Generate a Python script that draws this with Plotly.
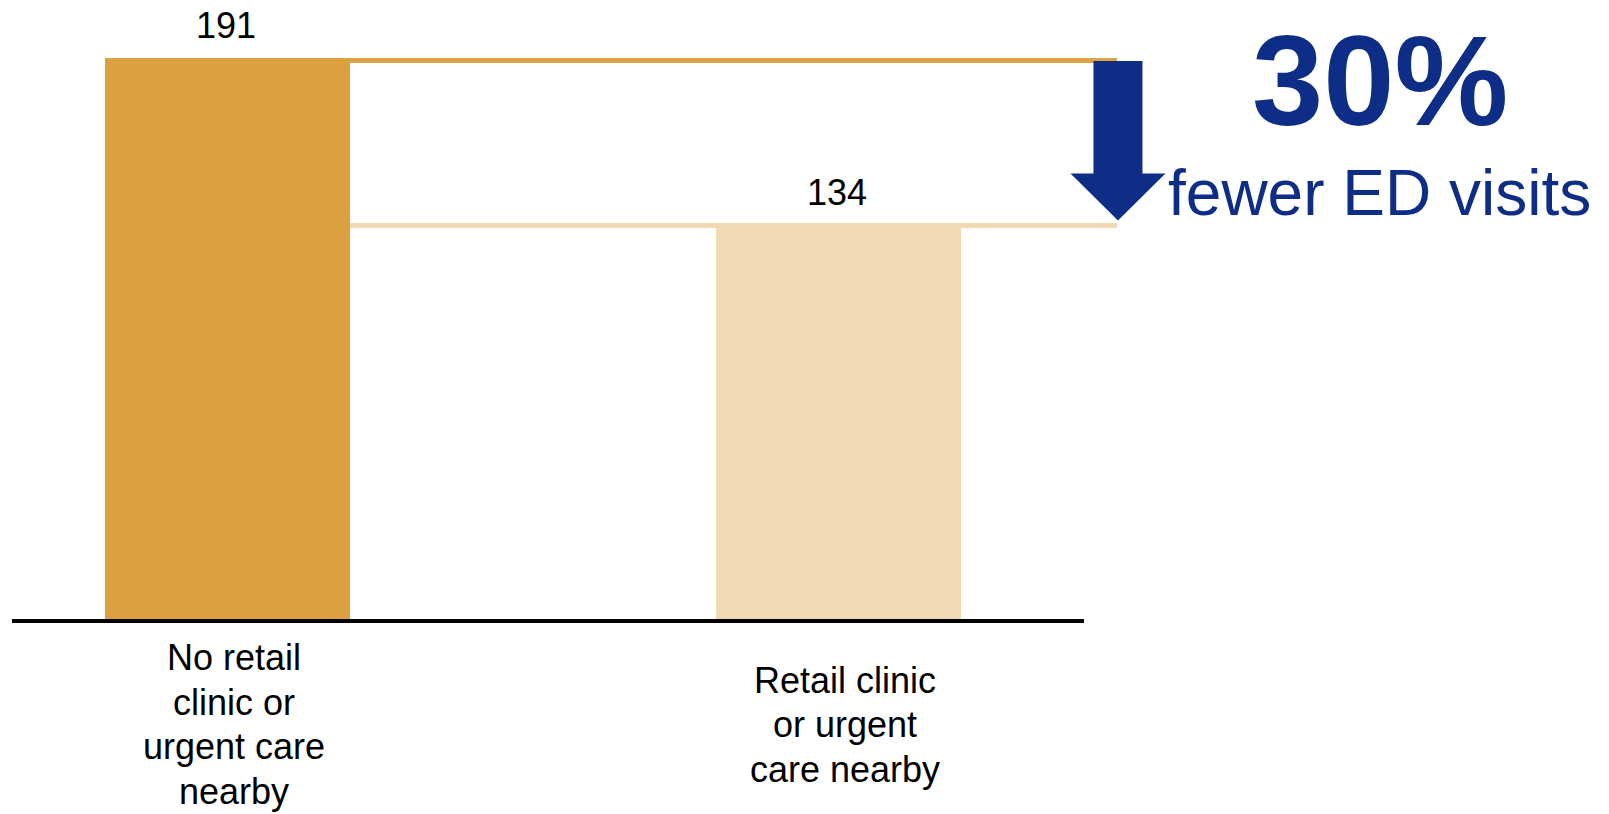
import plotly.graph_objects as go

# ---- data -------------------------------------------------------------
categories = ["No retail clinic or urgent care nearby",
              "Retail clinic or urgent care nearby"]
label_lines = [["No retail", "clinic or", "urgent care", "nearby"],
               ["Retail clinic", "or urgent", "care nearby"]]
ed_visits = [191, 134]
headline = "30%"
subline = "fewer ED visits"

# ---- styling ----------------------------------------------------------
W, H = 1609, 814
FONT = "Liberation Sans, Arial, Helvetica, sans-serif"
NAVY = "#0E2D86"
bar_colors = ["#DCA041", "#F1D9B3"]
level_colors = ["#DDA447", "#F1D9B3"]
BAR_W = 0.401

X_RANGE = [-0.3723, 2.2611]
Y_RANGE = [-66.39, 210.76]
PX_X = W / (X_RANGE[1] - X_RANGE[0])   # pixels per category unit
PX_Y = H / (Y_RANGE[1] - Y_RANGE[0])   # pixels per visit unit


def xu(px):
    """pixel offset -> x data units"""
    return px / PX_X


def yu(px):
    """pixel offset -> y data units"""
    return px / PX_Y


xs = list(range(len(categories)))

fig = go.Figure()
fig.add_trace(go.Bar(
    x=xs, y=ed_visits, width=BAR_W,
    marker=dict(color=bar_colors, line=dict(width=0)),
    hoverinfo="skip", showlegend=False,
))

shapes = []
# horizontal reference levels running from the first bar's right edge
level_x0 = xs[0] + BAR_W / 2
level_x1 = xs[0] + xu(889.5)
level_nudge = [-2.5, 0]
for v, c, d in zip(ed_visits, level_colors, level_nudge):
    y = v + yu(d)
    shapes.append(dict(type="line", xref="x", yref="y",
                       x0=level_x0, x1=level_x1, y0=y, y1=y,
                       line=dict(color=c, width=5)))

# baseline
shapes.append(dict(type="line", xref="x", yref="y",
                   x0=xs[0] - xu(215.5), x1=xs[0] + xu(856.5),
                   y0=-yu(2), y1=-yu(2),
                   line=dict(color="black", width=4)))

# downward arrow between the two levels
ax_c = xs[0] + xu(890.5)
shaft_half = xu(24.5)
head_half = xu(47.5)
top = ed_visits[0] - yu(3)
tip = ed_visits[1] + yu(5)
head_base = tip + yu(47)
path = (f"M {ax_c - shaft_half},{top} L {ax_c + shaft_half},{top} "
        f"L {ax_c + shaft_half},{head_base} L {ax_c + head_half},{head_base} "
        f"L {ax_c},{tip} L {ax_c - head_half},{head_base} "
        f"L {ax_c - shaft_half},{head_base} Z")
shapes.append(dict(type="path", xref="x", yref="y", path=path,
                   fillcolor=NAVY, line=dict(width=0)))

annotations = []
# value labels above bars
for x, v in zip(xs, ed_visits):
    annotations.append(dict(x=x, y=v, xref="x", yref="y", text=str(v),
                            showarrow=False, xanchor="center", yanchor="middle",
                            yshift=32.5, xshift=-1,
                            font=dict(family=FONT, size=36, color="black")))

# category labels, one line per annotation, centred at a common height
LINE_H = 44.5
for x, lines in zip(xs, label_lines):
    n = len(lines)
    for i, t in enumerate(lines):
        off = (i - (n - 1) / 2) * LINE_H
        annotations.append(dict(x=x, y=0, xref="x", yref="y", text=t,
                                showarrow=False, xanchor="center", yanchor="middle",
                                xshift=7, yshift=-(105.5 + off),
                                font=dict(family=FONT, size=36, color="black")))

# headline callout
annotations.append(dict(x=1380 / W, y=1 - 80 / H, xref="paper", yref="paper",
                        text=f"<b>{headline}</b>", showarrow=False,
                        xanchor="center", yanchor="middle",
                        font=dict(family=FONT, size=128, color=NAVY)))
annotations.append(dict(x=1379 / W, y=1 - 192.5 / H, xref="paper", yref="paper",
                        text=subline, showarrow=False,
                        xanchor="center", yanchor="middle",
                        font=dict(family=FONT, size=64, color=NAVY)))

fig.update_layout(
    width=W, height=H,
    margin=dict(l=0, r=0, t=0, b=0),
    paper_bgcolor="white", plot_bgcolor="white",
    xaxis=dict(range=X_RANGE, visible=False, fixedrange=True),
    yaxis=dict(range=Y_RANGE, visible=False, fixedrange=True),
    shapes=shapes, annotations=annotations,
    bargap=0, showlegend=False,
)

fig.write_html("out.html")
